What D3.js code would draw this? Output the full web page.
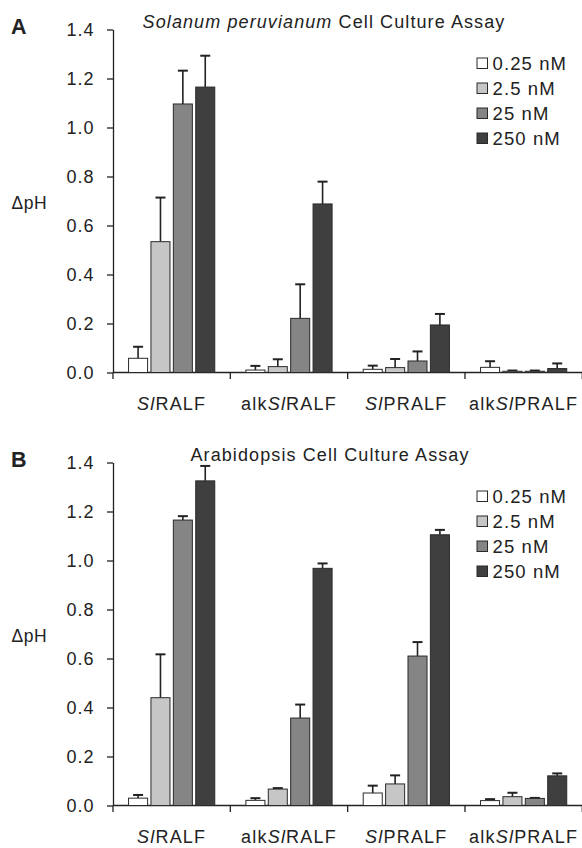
<!DOCTYPE html>
<html>
<head>
<meta charset="utf-8">
<script src="https://cdn.jsdelivr.net/npm/d3@7"></script>
<style>
  body { margin: 0; background: #fff; }
  svg text { font-family: "Liberation Sans", Arial, Helvetica, sans-serif; fill: #222; }
</style>
</head>
<body>
<script>
// categories and series
const groups = ["SlRALF", "alkSlRALF", "SlPRALF", "alkSlPRALF"];
const doses = ["0.25 nM", "2.5 nM", "25 nM", "250 nM"];
const yTicks = [0, 0.2, 0.4, 0.6, 0.8, 1.0, 1.2, 1.4];

// panel A: Solanum peruvianum, rows = groups, cols = doses
const tomatoMeans = [
  [0.058, 0.534, 1.096, 1.165],
  [0.010, 0.024, 0.221, 0.688],
  [0.013, 0.020, 0.047, 0.194],
  [0.021, 0.005, 0.005, 0.016]
];
const tomatoErrors = [
  [0.047, 0.180, 0.136, 0.128],
  [0.017, 0.030, 0.139, 0.091],
  [0.015, 0.035, 0.039, 0.045],
  [0.025, 0.003, 0.003, 0.021]
];

// panel B: Arabidopsis
const arabMeans = [
  [0.030, 0.440, 1.165, 1.325],
  [0.021, 0.067, 0.357, 0.968],
  [0.051, 0.088, 0.610, 1.105],
  [0.020, 0.036, 0.029, 0.121]
];
const arabErrors = [
  [0.013, 0.177, 0.016, 0.061],
  [0.009, 0.004, 0.055, 0.020],
  [0.030, 0.035, 0.057, 0.020],
  [0.006, 0.016, 0.002, 0.010]
];

const fills = ["#ffffff", "#c6c6c6", "#858585", "#3f3f3f"];

const svg = d3.select("body").append("svg")
    .attr("width", 582)
    .attr("height", 848);

function drawPanel(top, letter, titleX, titleParts, means, errors) {
    let g = svg.append("g").attr("transform", "translate(0," + top + ")");

    let y = d3.scaleLinear().domain([0, 1.4]).range([343, 0]);
    let x0 = d3.scaleBand().domain(groups).range([113, 582.3]);
    let x1 = d3.scaleBand().domain(doses).range([0, x0.bandwidth()])
        .paddingInner(0.15).paddingOuter(0.695);

    // panel letter
    g.append("text")
        .attr("x", 11).attr("y", 4)
        .style("font-size", "21.5px").style("font-weight", "bold")
        .text(letter);

    // title
    let t = g.append("text")
        .attr("x", titleX).attr("y", -1.5)
        .attr("text-anchor", "middle")
        .style("font-size", "18px").style("letter-spacing", "1.1px");
    titleParts.forEach(p => {
        t.append("tspan").style("font-style", p[1] ? "italic" : "normal").text(p[0]);
    });

    // y axis
    let yAxis = g.append("g")
        .attr("transform", "translate(113,0)")
        .call(d3.axisLeft(y).tickValues(yTicks).tickFormat(d3.format(".1f"))
            .tickSize(6).tickPadding(12.5).tickSizeOuter(0));
    yAxis.selectAll("text")
        .style("font-size", "18px").style("letter-spacing", "1px")
        .attr("dy", "0.36em");
    yAxis.selectAll("line, path").attr("stroke", "#222").attr("stroke-width", 1.3);

    // x axis
    let xAxis = g.append("g").attr("transform", "translate(0," + y(0) + ")");
    xAxis.append("line")
        .attr("x1", 113).attr("x2", 582.3)
        .attr("stroke", "#222").attr("stroke-width", 1.3);
    let bounds = groups.map(d => x0(d)).concat([x0(groups[3]) + x0.bandwidth()]);
    xAxis.selectAll(".tick")
        .data(bounds)
        .enter().append("line")
        .attr("x1", d => d).attr("x2", d => d)
        .attr("y1", 0).attr("y2", 6.5)
        .attr("stroke", "#222").attr("stroke-width", 1.3);

    let labels = xAxis.selectAll(".glabel")
        .data(groups)
        .enter().append("text")
        .attr("x", d => x0(d) + x0.bandwidth() / 2)
        .attr("y", 37)
        .attr("text-anchor", "middle")
        .style("font-size", "18px").style("letter-spacing", "1.2px");
    labels.each(function (d) {
        let m = d.match(/^(.*?)(Sl)(.*)$/);
        let el = d3.select(this);
        if (m[1]) el.append("tspan").text(m[1]);
        el.append("tspan").style("font-style", "italic").text(m[2]);
        el.append("tspan").text(m[3]);
    });

    // ΔpH label
    g.append("text")
        .attr("x", 11.5).attr("y", 179)
        .style("font-size", "17.5px").style("letter-spacing", "0.6px")
        .text("\u0394pH");

    // bars
    let cells = [];
    groups.forEach((grp, i) => {
        doses.forEach((ds, j) => {
            cells.push({grp: grp, dose: ds, j: j, v: means[i][j], e: errors[i][j]});
        });
    });

    let bar = g.selectAll(".bar")
        .data(cells)
        .enter().append("g");

    bar.append("line")
        .attr("x1", d => x0(d.grp) + x1(d.dose) + x1.bandwidth() / 2)
        .attr("x2", d => x0(d.grp) + x1(d.dose) + x1.bandwidth() / 2)
        .attr("y1", d => y(d.v))
        .attr("y2", d => y(d.v + d.e))
        .attr("stroke", "#222").attr("stroke-width", 1.6);
    bar.append("line")
        .attr("x1", d => x0(d.grp) + x1(d.dose) + x1.bandwidth() / 2 - 5)
        .attr("x2", d => x0(d.grp) + x1(d.dose) + x1.bandwidth() / 2 + 5)
        .attr("y1", d => y(d.v + d.e))
        .attr("y2", d => y(d.v + d.e))
        .attr("stroke", "#222").attr("stroke-width", 2);

    bar.append("rect")
        .attr("x", d => x0(d.grp) + x1(d.dose))
        .attr("y", d => y(d.v))
        .attr("width", x1.bandwidth())
        .attr("height", d => y(0) - y(d.v))
        .attr("fill", d => fills[d.j])
        .attr("stroke", "#2a2a2a").attr("stroke-width", 1);

    // legend
    let leg = g.selectAll(".leg")
        .data(doses)
        .enter().append("g")
        .attr("transform", (d, i) => "translate(477," + (34 + i * 25) + ")");
    leg.append("rect")
        .attr("x", 0).attr("y", -5.5)
        .attr("width", 10.5).attr("height", 10.5)
        .attr("fill", (d, i) => fills[i])
        .attr("stroke", "#2a2a2a").attr("stroke-width", 1);
    leg.append("text")
        .attr("x", 15.5).attr("y", 0).attr("dy", "0.36em")
        .style("font-size", "18.5px").style("letter-spacing", "1.1px")
        .text(d => d);
}

drawPanel(29.5, "A", 324, [["Solanum peruvianum", true], [" Cell Culture Assay", false]], tomatoMeans, tomatoErrors);
drawPanel(462.5, "B", 330, [["Arabidopsis Cell Culture Assay", false]], arabMeans, arabErrors);
</script>
</body>
</html>
